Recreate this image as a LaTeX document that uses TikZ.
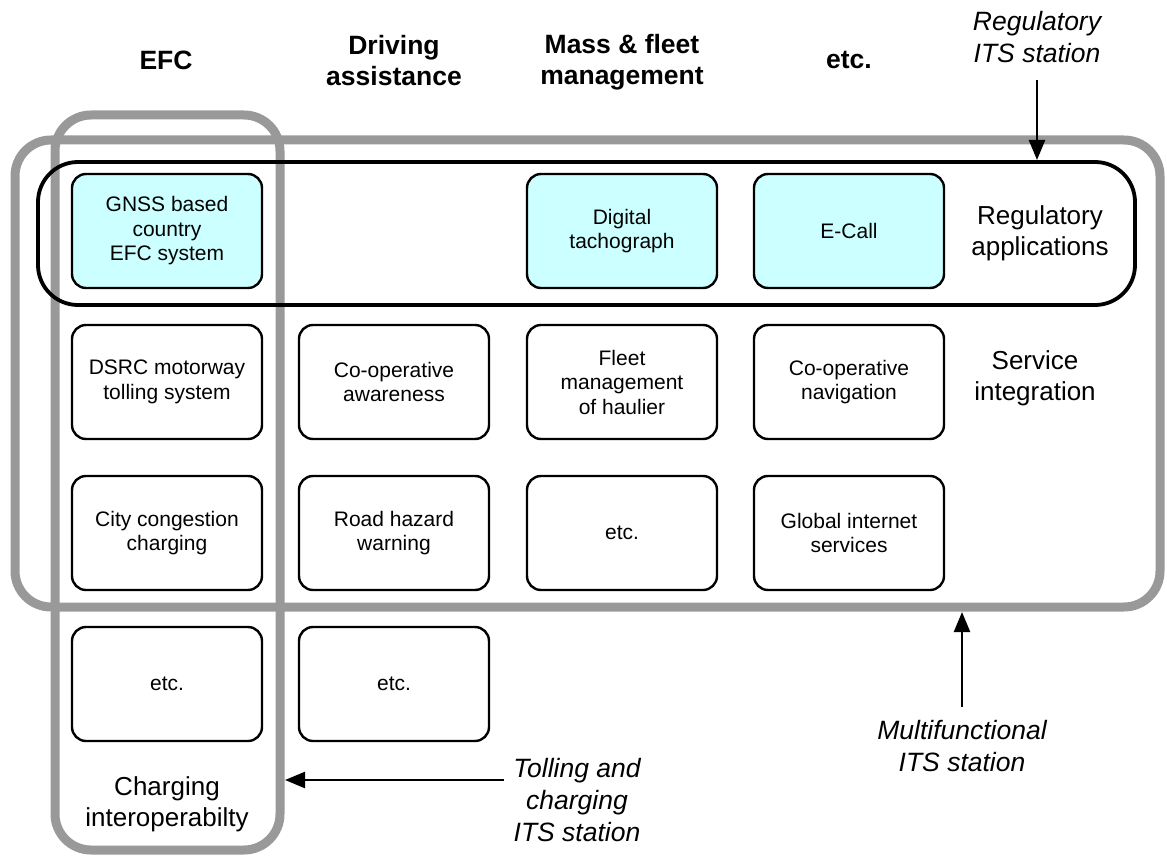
\documentclass[tikz,border=0pt]{standalone}
\usepackage{fontspec}
\setmainfont{Liberation Sans}
\usetikzlibrary{arrows.meta}
\definecolor{regcyan}{HTML}{CCFFFF}
\definecolor{groupgray}{HTML}{999999}
\begin{document}
\begin{tikzpicture}[x=1pt,y=-1pt,
  app/.style={draw=black,line width=2.4pt,rounded corners=14pt,fill=white,
    minimum width=190pt,minimum height=114pt,align=center,inner sep=2pt,
    font=\fontsize{21}{24.5}\selectfont},
  regapp/.style={app,fill=regcyan},
  colhead/.style={align=center,font=\fontsize{26.5}{31}\selectfont\bfseries},
  sidelabel/.style={align=center,font=\fontsize{26}{31}\selectfont},
  station/.style={align=center,font=\fontsize{26.5}{32}\selectfont\itshape},
  group/.style={draw=groupgray,line width=9pt,rounded corners=36pt},
  pointer/.style={draw=black,line width=2.4pt,-{Triangle[length=20pt,width=16pt]}}]
\useasboundingbox (0,0) rectangle (1167,856);

% grouping frames
\draw[group] (15,140) rectangle (1160,607);
\draw[group] (55,115) rectangle (280,850);
\draw[draw=black,line width=3.8pt,rounded corners=40pt] (38,162) rectangle (1135,305);

% column headings
\node[colhead] (hefc) at (166,60) {EFC};
\node[colhead] (hda) at (394,61) {Driving\\assistance};
\node[colhead] (hmf) at (622,62) {Mass \& fleet\\management};
\node[colhead] (hetc) at (849,60) {etc.};

% applications
\node[regapp] (gnss) at (167,231) {GNSS based\\country\\EFC system};
\node[regapp] (tacho) at (622,231) {Digital\\tachograph};
\node[regapp] (ecall) at (849,231) {E-Call};

\node[app] (dsrc) at (167,382) {DSRC motorway\\tolling system};
\node[app] (coaw) at (394,382) {Co-operative\\awareness};
\node[app] (fleet) at (622,382) {Fleet\\management\\of haulier};
\node[app] (conav) at (849,382) {Co-operative\\navigation};

\node[app] (city) at (167,533) {City congestion\\charging};
\node[app] (hazard) at (394,533) {Road hazard\\warning};
\node[app] (etcc) at (622,533) {etc.};
\node[app] (inet) at (849,533) {Global internet\\services};

\node[app] (etca) at (167,684) {etc.};
\node[app] (etcb) at (394,684) {etc.};

% side labels
\node[sidelabel] (regl) at (1040,233) {Regulatory\\applications};
\node[sidelabel] (servl) at (1035,378) {Service\\integration};
\node[sidelabel] (chargl) at (167,804) {Charging\\interoperabilty};

% station types
\node[station] (regst) at (1037,37) {Regulatory\\ITS station};
\node[station] (multst) at (962,746) {Multifunctional\\ITS station};
\node[station] (tollst) at (577,800) {Tolling and\\charging\\ITS station};

\coordinate (regtip) at (1037,160);
\coordinate (multtip) at (962,612);
\coordinate (tolltip) at (285,780);
\draw[pointer] (regst.south -| regtip) ++(0,14) -- (regtip);
\draw[pointer] (multst.north -| multtip) ++(0,-10) -- (multtip);
\draw[pointer] (tollst.west |- tolltip) ++(-6,0) -- (tolltip);
\end{tikzpicture}
\end{document}
